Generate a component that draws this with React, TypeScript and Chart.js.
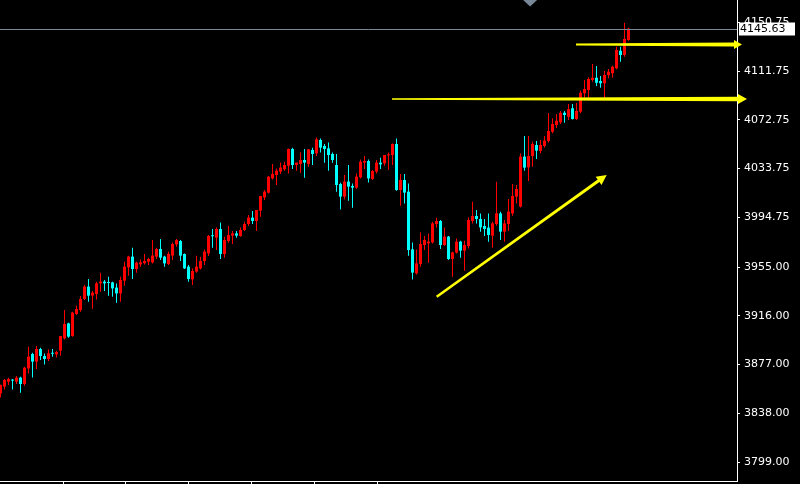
import React, { useEffect, useRef } from "react";
import { Chart, registerables } from "chart.js";
Chart.register(...registerables);

const opens = [
  3853.9, 3859.3, 3863.3, 3864.6, 3863.3, 3866.5, 3861.4, 3873.9, 3885.4, 3879.3,
  3889.4, 3883.8, 3881.4, 3886.1, 3885.1, 3888.1, 3897.9, 3909.9, 3899.8, 3917.4,
  3920.6, 3929.4, 3939.3, 3932.1, 3933.4, 3941.9, 3943.3, 3942.7, 3942.7, 3938.5,
  3933.9, 3944.1, 3954.7, 3963.3, 3953.4, 3957.1, 3958.0, 3959.3, 3958.7, 3963.3,
  3969.4, 3963.3, 3957.4, 3964.1, 3973.1, 3975.8, 3965.4, 3955.3, 3945.1, 3951.3,
  3953.9, 3959.8, 3965.9, 3980.0, 3978.5, 3985.4, 3965.4, 3975.8, 3980.1, 3981.9,
  3979.8, 3984.6, 3989.4, 3994.5, 3991.8, 4000.1, 4010.7, 4014.5, 4025.9, 4028.6,
  4031.3, 4033.1, 4036.1, 4049.4, 4036.6, 4037.4, 4040.6, 4037.4, 4048.6, 4045.9,
  4056.6, 4051.8, 4049.9, 4045.4, 4036.6, 4021.4, 4011.3, 4023.3, 4019.8, 4018.5,
  4026.7, 4038.5, 4039.8, 4025.4, 4031.3, 4038.5, 4037.9, 4044.3, 4044.6, 4053.4,
  4016.6, 4024.6, 4015.3, 3969.1, 3949.9, 3957.4, 3972.6, 3973.9, 3974.7, 3989.4,
  3991.8, 3972.6, 3979.3, 3961.4, 3966.5, 3975.3, 3968.1, 3971.8, 3991.8, 3995.8,
  3993.4, 3987.8, 3986.5, 3980.1, 3989.4, 3997.9, 3983.3, 3989.4, 3997.9, 4011.3,
  4003.3, 4043.3, 4034.7, 4043.8, 4052.6, 4047.8, 4051.8, 4055.8, 4063.2, 4068.6,
  4070.8, 4078.4, 4075.2, 4082.0, 4073.4, 4079.2, 4094.0, 4096.6, 4104.6, 4106.4,
  4103.8, 4102.0, 4108.6, 4110.0, 4114.0, 4128.0, 4124.6, 4136.6
];
const highs = [
  3861.1, 3865.4, 3866.5, 3865.4, 3867.8, 3867.3, 3875.3, 3891.3, 3886.5, 3891.8,
  3890.5, 3885.9, 3889.1, 3889.4, 3887.8, 3899.8, 3920.6, 3910.5, 3919.3, 3924.3,
  3931.8, 3940.6, 3945.4, 3935.8, 3943.3, 3950.5, 3944.6, 3947.3, 3943.3, 3941.9,
  3947.3, 3959.3, 3964.1, 3970.5, 3959.3, 3961.1, 3965.4, 3962.5, 3976.6, 3970.5,
  3977.4, 3964.1, 3967.3, 3974.7, 3977.4, 3976.6, 3965.9, 3956.6, 3953.9, 3964.1,
  3963.3, 3969.1, 3980.6, 3985.4, 3986.7, 3990.7, 3979.3, 3987.8, 3983.8, 3983.8,
  3986.7, 3991.3, 3996.6, 3999.8, 4000.6, 4011.8, 4016.6, 4027.8, 4037.4, 4033.9,
  4038.7, 4039.3, 4049.9, 4050.5, 4038.5, 4046.7, 4049.4, 4049.4, 4050.5, 4058.7,
  4057.9, 4053.4, 4054.7, 4046.7, 4045.4, 4022.5, 4028.6, 4036.6, 4021.9, 4029.9,
  4041.1, 4043.8, 4041.1, 4032.6, 4040.6, 4042.5, 4044.6, 4046.7, 4053.9, 4057.9,
  4029.4, 4029.4, 4021.9, 3974.7, 3969.1, 3982.7, 3979.8, 3981.9, 3991.3, 3994.5,
  3992.6, 3986.7, 3979.8, 3967.3, 3977.9, 3976.1, 3976.1, 3994.7, 4007.3, 4000.6,
  3997.9, 3993.4, 3997.9, 3991.3, 4023.3, 3999.3, 3992.6, 4009.4, 4021.4, 4020.6,
  4045.9, 4059.8, 4059.8, 4055.3, 4055.8, 4056.6, 4059.8, 4078.2, 4074.0, 4077.4,
  4079.8, 4079.8, 4085.4, 4085.4, 4086.2, 4096.0, 4104.6, 4106.8, 4117.4, 4115.8,
  4107.8, 4111.8, 4113.4, 4116.0, 4131.2, 4131.2, 4150.4, 4146.4
];
const lows = [
  3850.7, 3857.1, 3860.6, 3857.1, 3861.4, 3854.5, 3860.1, 3869.9, 3866.7, 3873.4,
  3880.6, 3877.1, 3879.8, 3883.3, 3882.7, 3884.1, 3897.1, 3898.5, 3899.3, 3916.6,
  3919.3, 3928.6, 3927.3, 3921.7, 3929.1, 3935.3, 3935.8, 3932.1, 3931.3, 3926.5,
  3927.3, 3940.1, 3948.1, 3945.4, 3950.5, 3955.3, 3957.1, 3956.6, 3957.9, 3961.4,
  3960.6, 3955.3, 3956.6, 3960.6, 3971.3, 3959.8, 3953.4, 3943.3, 3940.6, 3950.5,
  3953.1, 3956.6, 3963.8, 3970.5, 3968.6, 3961.4, 3962.5, 3974.5, 3973.4, 3978.5,
  3979.3, 3983.8, 3987.8, 3989.4, 3983.8, 3995.3, 4008.6, 4013.9, 4025.1, 4020.6,
  4029.4, 4032.1, 4029.9, 4033.4, 4032.1, 4030.5, 4026.5, 4035.3, 4036.6, 4043.8,
  4046.7, 4038.5, 4032.1, 4038.5, 4015.3, 4001.1, 4009.1, 4008.1, 4002.5, 4017.4,
  4025.9, 4033.4, 4022.7, 4024.6, 4029.9, 4033.4, 4036.1, 4032.6, 4036.6, 4016.0,
  4004.1, 4005.9, 3964.1, 3945.1, 3949.1, 3955.3, 3968.6, 3958.5, 3973.9, 3986.7,
  3969.4, 3972.1, 3960.6, 3947.3, 3965.9, 3962.5, 3952.1, 3969.9, 3989.9, 3989.9,
  3983.3, 3979.8, 3975.3, 3970.5, 3988.1, 3976.6, 3975.3, 3983.8, 3996.1, 4005.9,
  4002.7, 4032.1, 4023.8, 4035.3, 4041.4, 4045.9, 4050.7, 4054.7, 4062.0, 4066.2,
  4069.4, 4070.4, 4072.6, 4073.0, 4072.6, 4078.0, 4090.4, 4090.4, 4103.2, 4099.8,
  4098.4, 4090.4, 4106.0, 4106.4, 4113.2, 4119.2, 4123.2, 4136.0
];
const closes = [
  3860.6, 3864.6, 3865.4, 3864.1, 3866.5, 3861.4, 3874.5, 3883.3, 3879.3, 3889.4,
  3883.8, 3881.4, 3885.9, 3885.6, 3887.0, 3899.8, 3909.4, 3899.3, 3918.5, 3921.4,
  3929.4, 3939.3, 3932.1, 3934.5, 3941.9, 3943.3, 3941.9, 3942.2, 3937.9, 3933.9,
  3944.6, 3955.3, 3963.3, 3953.4, 3958.5, 3958.7, 3959.8, 3961.4, 3964.1, 3969.4,
  3962.5, 3957.9, 3965.4, 3973.4, 3976.6, 3964.1, 3953.9, 3945.4, 3951.8, 3955.3,
  3959.8, 3967.3, 3979.8, 3979.6, 3985.4, 3965.4, 3976.6, 3980.6, 3981.9, 3980.1,
  3984.6, 3989.4, 3994.5, 3991.8, 4000.6, 4011.8, 4015.3, 4027.3, 4029.4, 4032.1,
  4034.5, 4036.6, 4049.4, 4036.6, 4038.5, 4040.6, 4038.5, 4049.1, 4045.4, 4057.1,
  4050.5, 4049.4, 4044.6, 4040.6, 4020.6, 4011.3, 4023.3, 4019.3, 4018.5, 4027.3,
  4039.3, 4039.8, 4025.9, 4031.8, 4038.5, 4037.1, 4044.6, 4045.1, 4053.4, 4016.6,
  4024.6, 4014.5, 3968.6, 3950.5, 3957.9, 3973.4, 3976.6, 3975.3, 3989.9, 3991.8,
  3972.6, 3979.3, 3961.4, 3966.7, 3975.3, 3968.1, 3972.6, 3992.6, 3995.8, 3993.4,
  3986.7, 3985.4, 3980.6, 3989.9, 3997.9, 3983.3, 3989.9, 3999.3, 4011.8, 4017.4,
  4043.3, 4034.5, 4043.8, 4053.4, 4048.1, 4052.6, 4056.1, 4063.8, 4069.4, 4072.0,
  4078.4, 4076.6, 4081.2, 4073.4, 4079.8, 4094.4, 4097.4, 4105.4, 4106.4, 4102.4,
  4102.0, 4108.6, 4111.2, 4115.2, 4128.6, 4124.6, 4137.4, 4145.63
];

const yTickValues = [4150.75, 4111.75, 4072.75, 4033.75, 3994.75, 3955.0, 3916.0, 3877.0, 3838.0, 3799.0];
const xTickValues = [15.625, 31.125, 46.875, 62.625, 78.375, 94.125];
const lastPrice = 4145.63;

// annotation arrows in data units: [x0, y0, x1, y1]
const arrowUpper = [143.875, 4133.0, 185.375, 4133.0];
const arrowLower = [97.875, 4089.4, 186.625, 4089.4];
const arrowDiag = [109.05, 3931.2, 151.55, 4028.6];
const markerX = 132.4;

const UP = "#ff0000";
const DOWN = "#00ffff";
const FONT = "'DejaVu Sans', sans-serif";

function drawArrow(ctx: CanvasRenderingContext2D, x0: number, y0: number, x1: number, y1: number, w0: number, w1: number, headLen: number, headW: number) {
  const dx = x1 - x0, dy = y1 - y0;
  const len = Math.hypot(dx, dy);
  const ux = dx / len, uy = dy / len;
  const nx = -uy, ny = ux;
  const bx = x1 - ux * headLen, by = y1 - uy * headLen;
  ctx.beginPath();
  ctx.moveTo(x0 + nx * w0 / 2, y0 + ny * w0 / 2);
  ctx.lineTo(bx + nx * w1 / 2, by + ny * w1 / 2);
  ctx.lineTo(bx + nx * headW / 2, by + ny * headW / 2);
  ctx.lineTo(x1, y1);
  ctx.lineTo(bx - nx * headW / 2, by - ny * headW / 2);
  ctx.lineTo(bx - nx * w1 / 2, by - ny * w1 / 2);
  ctx.lineTo(x0 - nx * w0 / 2, y0 - ny * w0 / 2);
  ctx.closePath();
  ctx.fill();
}

const overlayPlugin = {
  id: "overlay",
  afterDraw(chart: any) {
    const ctx: CanvasRenderingContext2D = chart.ctx;
    const xs = chart.scales.x;
    const ys = chart.scales.y;
    const area = chart.chartArea;
    ctx.save();
    // current price line
    const py = Math.round(ys.getPixelForValue(lastPrice)) + 0.5;
    ctx.strokeStyle = "rgb(120,136,153)";
    ctx.lineWidth = 1;
    ctx.beginPath();
    ctx.moveTo(area.left, py);
    ctx.lineTo(area.right, py);
    ctx.stroke();
    // price box
    ctx.fillStyle = "#ffffff";
    ctx.fillRect(area.right + 2, py - 7, 56, 13);
    ctx.fillStyle = "#000000";
    ctx.font = `11px ${FONT}`;
    ctx.textBaseline = "middle";
    ctx.textAlign = "left";
    ctx.fillText(lastPrice.toFixed(2), area.right + 3, py);
    // top marker
    const mx = xs.getPixelForValue(markerX);
    ctx.fillStyle = "rgb(120,136,153)";
    ctx.beginPath();
    ctx.moveTo(mx - 7, 0);
    ctx.lineTo(mx + 7, 0);
    ctx.lineTo(mx, 6.5);
    ctx.closePath();
    ctx.fill();
    // yellow arrows
    ctx.fillStyle = "#ffff00";
    const arr = (a: number[], w0: number, w1: number, hl: number, hw: number) =>
      drawArrow(ctx, xs.getPixelForValue(a[0]), ys.getPixelForValue(a[1]), xs.getPixelForValue(a[2]), ys.getPixelForValue(a[3]), w0, w1, hl, hw);
    arr(arrowUpper, 2, 4, 8, 9);
    arr(arrowLower, 1.5, 4.5, 9, 10);
    arr(arrowDiag, 2.5, 3, 10, 10);
    ctx.restore();
  },
};

export default function App() {
  const ref = useRef<HTMLCanvasElement | null>(null);
  useEffect(() => {
    document.body.style.margin = "0";
    document.body.style.background = "#000";
    const colors = opens.map((o, i) => (closes[i] >= o ? UP : DOWN));
    const idx = opens.map((_, i) => i);
    const chart = new Chart(ref.current as HTMLCanvasElement, {
      type: "bar",
      data: {
        datasets: [
          {
            label: "wick",
            data: idx.map((i) => ({ x: i, y: [lows[i], highs[i]] })) as any,
            backgroundColor: colors,
            barThickness: 1,
            maxBarThickness: 1,
            grouped: false,
            inflateAmount: 0,
            borderWidth: 0,
            order: 2,
          } as any,
          {
            label: "body",
            data: idx.map((i) => ({ x: i, y: [opens[i], closes[i]] })) as any,
            backgroundColor: colors,
            barThickness: 3,
            maxBarThickness: 3,
            grouped: false,
            inflateAmount: 0,
            borderWidth: 0,
            minBarLength: 1,
            order: 1,
          } as any,
        ],
      },
      options: {
        animation: false,
        responsive: false,
        devicePixelRatio: 1,
        events: [],
        layout: { padding: 0 },
        plugins: { legend: { display: false }, tooltip: { enabled: false } },
        scales: {
          x: {
            type: "linear",
            min: -0.125,
            max: 184.125,
            offset: false,
            afterBuildTicks: (s: any) => {
              s.ticks = xTickValues.map((v) => ({ value: v }));
            },
            afterFit: (s: any) => {
              s.height = 3;
              s.paddingLeft = 0;
              s.paddingRight = 0;
            },
            ticks: { display: false },
            grid: { display: true, offset: false, drawOnChartArea: false, drawTicks: true, tickLength: 3, color: "#ffffff", lineWidth: 1 },
            border: { display: true, color: "#ffffff", width: 1 },
          },
          y: {
            type: "linear",
            position: "right",
            min: 3783.8,
            max: 4168.6,
            afterBuildTicks: (s: any) => {
              s.ticks = yTickValues.map((v) => ({ value: v }));
            },
            afterFit: (s: any) => {
              s.width = 63;
              s.paddingTop = 0;
              s.paddingBottom = 0;
            },
            ticks: {
              color: "#ffffff",
              font: { family: FONT, size: 11 },
              padding: 4,
              autoSkip: false,
              callback: (v: any) => Number(v).toFixed(2),
            },
            grid: { display: true, offset: false, drawOnChartArea: false, drawTicks: true, tickLength: 3, color: "#ffffff", lineWidth: 1 },
            border: { display: true, color: "#ffffff", width: 1 },
          },
        },
      } as any,
      plugins: [overlayPlugin],
    });
    return () => chart.destroy();
  }, []);
  return (
    <div style={{ width: 800, height: 484, background: "#000" }}>
      <canvas ref={ref} width={800} height={484} style={{ display: "block", width: 800, height: 484 }} />
    </div>
  );
}
